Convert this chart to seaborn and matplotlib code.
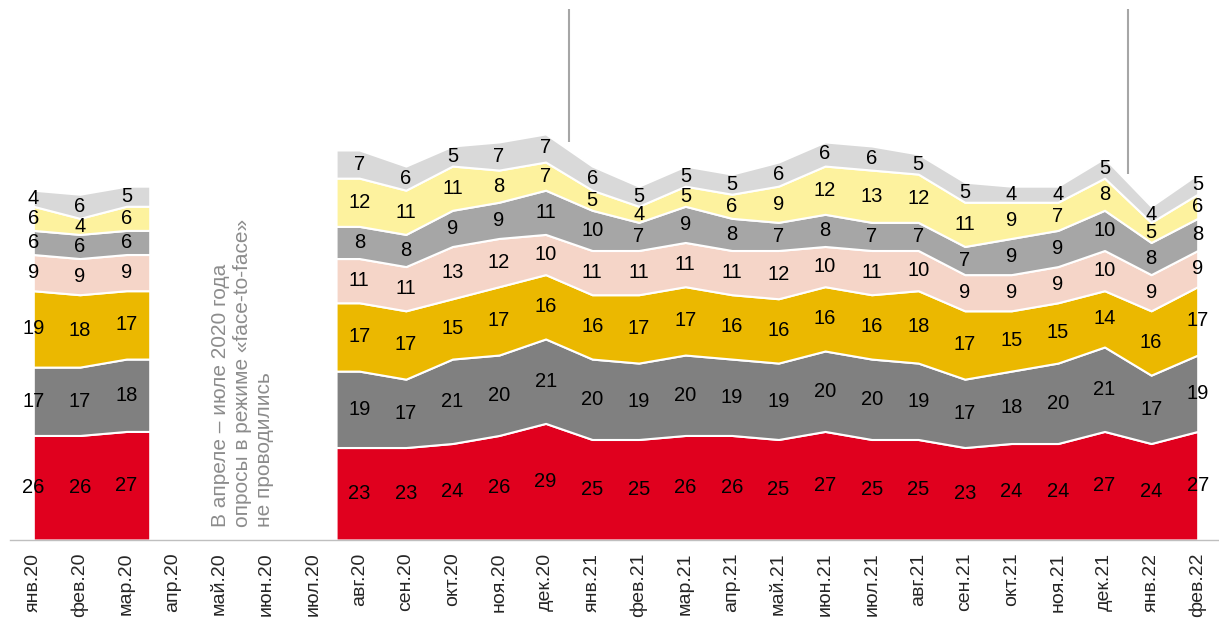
import numpy as np
import pandas as pd
import matplotlib.pyplot as plt
import seaborn as sns

months = ['янв.20', 'фев.20', 'мар.20', 'апр.20', 'май.20', 'июн.20', 'июл.20',
          'авг.20', 'сен.20', 'окт.20', 'ноя.20', 'дек.20',
          'янв.21', 'фев.21', 'мар.21', 'апр.21', 'май.21', 'июн.21', 'июл.21',
          'авг.21', 'сен.21', 'окт.21', 'ноя.21', 'дек.21', 'янв.22', 'фев.22']

gap = [np.nan] * 4  # апр-июл 2020: опросы не проводились

s1 = [26, 26, 27] + gap + [23, 23, 24, 26, 29, 25, 25, 26, 26, 25, 27, 25, 25, 23, 24, 24, 27, 24, 27]
s2 = [17, 17, 18] + gap + [19, 17, 21, 20, 21, 20, 19, 20, 19, 19, 20, 20, 19, 17, 18, 20, 21, 17, 19]
s3 = [19, 18, 17] + gap + [17, 17, 15, 17, 16, 16, 17, 17, 16, 16, 16, 16, 18, 17, 15, 15, 14, 16, 17]
s4 = [9, 9, 9] + gap + [11, 11, 13, 12, 10, 11, 11, 11, 11, 12, 10, 11, 10, 9, 9, 9, 10, 9, 9]
s5 = [6, 6, 6] + gap + [8, 8, 9, 9, 11, 10, 7, 9, 8, 7, 8, 7, 7, 7, 9, 9, 10, 8, 8]
s6 = [6, 4, 6] + gap + [12, 11, 11, 8, 7, 5, 4, 5, 6, 9, 12, 13, 12, 11, 9, 7, 8, 5, 6]
s7 = [4, 6, 5] + gap + [7, 6, 5, 7, 7, 6, 5, 5, 5, 6, 6, 6, 5, 5, 4, 4, 5, 4, 5]

colors = ['#E0001E', '#808080', '#EBB800', '#F5D5C8', '#A6A6A6', '#FDF29E', '#D9D9D9']
year_breaks = ['дек.20', 'дек.21']  # вертикальные разделители после этих месяцев

note = 'В апреле – июле 2020 года\nопросы в режиме «face-to-face»\nне проводились'

df = pd.DataFrame({'s1': s1, 's2': s2, 's3': s3, 's4': s4,
                   's5': s5, 's6': s6, 's7': s7}, index=months)

sns.set_style('white')
plt.rcParams['font.family'] = ['Liberation Sans', 'DejaVu Sans']

fig = plt.figure(figsize=(12.19, 6.26), dpi=100)
ax = fig.add_axes([10 / 1219, 86 / 626, 1211 / 1219, 540 / 626])

n = len(months)
valid = df.notna().all(axis=1).to_numpy()

# непрерывные участки без пропусков
runs = []
start = None
for i, ok in enumerate(valid):
    if ok and start is None:
        start = i
    if not ok and start is not None:
        runs.append((start, i - 1))
        start = None
if start is not None:
    runs.append((start, n - 1))

for a, b in runs:
    xs = list(range(a, b + 1))
    vals = df.iloc[a:b + 1].to_numpy().T
    # со стороны пропуска область тянется на полкатегории
    if a > 0 and not valid[a - 1]:
        xs = [a - 0.5] + xs
        vals = np.hstack([vals[:, :1], vals])
    if b < n - 1 and not valid[b + 1]:
        xs = xs + [b + 0.5]
        vals = np.hstack([vals, vals[:, -1:]])
    ax.stackplot(xs, vals, colors=colors, edgecolor='white', linewidth=1.5, zorder=2)

# подписи значений в середине каждого слоя
for i in range(n):
    if not valid[i]:
        continue
    bottom = 0
    for col in df.columns:
        v = df[col].iloc[i]
        ax.text(i, bottom + v / 2, f'{v:.0f}', ha='center', va='center',
                fontsize=14.5, color='black', zorder=3)
        bottom += v

totals = df.sum(axis=1, min_count=1)
for m in year_breaks:
    k = months.index(m)
    level = (totals.iloc[k] + totals.iloc[k + 1]) / 2
    ax.vlines(k + 0.5, level + 2, 132, color='#A6A6A6', linewidth=1.5, zorder=1)

ax.text(4.5, 3.2, note, rotation=90, ha='center', va='bottom',
        multialignment='left', fontsize=15, color='#8C8C8C', linespacing=1.2)

ax.set_xlim(-0.5, n - 0.5)
ax.set_ylim(0, 134.3)
ax.set_xticks(range(n))
ax.set_xticklabels(months, rotation=90, fontsize=14)
ax.set_xticks(np.arange(-0.5, n - 1, 1), minor=True)
ax.tick_params(axis='x', which='major', length=0, pad=9)
ax.tick_params(axis='x', which='minor', length=6, color='#BFBFBF', width=1)
ax.set_yticks([])

sns.despine(ax=ax, left=True, top=True, right=True)
ax.spines['bottom'].set_color('#BFBFBF')
ax.spines['bottom'].set_linewidth(1)
ax.spines['bottom'].set_zorder(4)

fig.savefig('out.png', dpi=100)
